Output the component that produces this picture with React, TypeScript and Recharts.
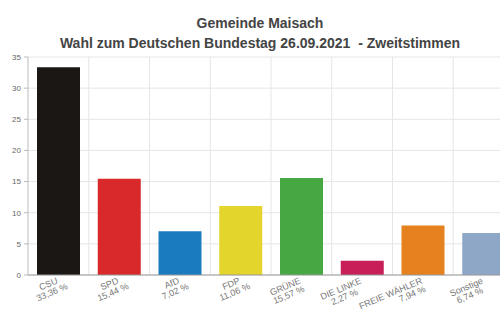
import { BarChart, Bar, XAxis, YAxis, CartesianGrid, Cell } from 'recharts';

const parties = ['CSU', 'SPD', 'AfD', 'FDP', 'GRÜNE', 'DIE LINKE', 'FREIE WÄHLER', 'Sonstige'];
const shares = [33.36, 15.44, 7.02, 11.06, 15.57, 2.27, 7.94, 6.74];
const colors = ['#1b1714', '#d9292a', '#1a7bbf', '#e3d52c', '#46a843', '#c81f58', '#e5821f', '#8fa7c7'];
const yTicks = [0, 5, 10, 15, 20, 25, 30, 35];

const data = parties.map((name, i) => ({ name, value: shares[i], color: colors[i] }));

const LABEL_FONT = '9px "Liberation Sans", Arial, sans-serif';

let ctx: CanvasRenderingContext2D | null = null;
function textWidth(s: string) {
  if (!ctx) ctx = document.createElement('canvas').getContext('2d');
  if (!ctx) return s.length * 5;
  ctx.font = LABEL_FONT;
  return ctx.measureText(s).width;
}

const fmt = (v: number) => v.toFixed(2).replace('.', ',') + ' %';

function PartyTick(props: any) {
  const { x, payload, index } = props;
  const name = payload.value as string;
  const w = textWidth(name);
  // long names: value line right-aligned; otherwise centred under the name
  const long = w > 50;
  return (
    <g transform={`translate(${x},${283}) rotate(-23)`}>
      <text x={0} y={0} textAnchor="end" fill="#777" fontSize={9} fontFamily='"Liberation Sans", Arial, sans-serif'>
        {name}
      </text>
      <text
        x={long ? 0 : -w / 2}
        y={9}
        textAnchor={long ? 'end' : 'middle'}
        fill="#777"
        fontSize={9}
        fontFamily='"Liberation Sans", Arial, sans-serif'
      >
        {fmt(shares[index])}
      </text>
    </g>
  );
}

export default function App() {
  return (
    <div
      style={{
        position: 'absolute',
        left: 0,
        top: 0,
        width: 500,
        height: 310,
        overflow: 'hidden',
        background: '#fff',
        fontFamily: '"Liberation Sans", Arial, sans-serif',
      }}
    >
      <div
        style={{
          position: 'absolute',
          left: 0,
          width: 520,
          top: 13,
          textAlign: 'center',
          fontWeight: 'bold',
          fontSize: 14,
          lineHeight: '20px',
          color: '#444',
        }}
      >
        Gemeinde Maisach
        <br />
        Wahl zum Deutschen Bundestag 26.09.2021&nbsp; - Zweitstimmen
      </div>
      <BarChart
        width={520}
        height={310}
        data={data}
        margin={{ top: 57, right: 6, left: 0, bottom: 0 }}
        style={{ position: 'absolute', left: 0, top: 0 }}
      >
        <CartesianGrid
          stroke="#e6e6e6"
          verticalCoordinatesGenerator={({ offset }: any) =>
            parties.map((_, i) => offset.left + ((i + 1) * offset.width) / parties.length)
          }
        />
        <XAxis
          dataKey="name"
          interval={0}
          height={35}
          axisLine={{ stroke: '#999' }}
          tickLine={false}
          tick={<PartyTick />}
        />
        <YAxis
          width={28}
          domain={[0, 35]}
          ticks={yTicks}
          interval={0}
          axisLine={{ stroke: '#bbb' }}
          tickLine={{ stroke: '#bbb' }}
          tickSize={4}
          tickMargin={3}
          tick={{ fill: '#666', fontSize: 8 }}
        />
        <Bar dataKey="value" barSize={43} isAnimationActive={false}>
          {data.map((d) => (
            <Cell key={d.name} fill={d.color} />
          ))}
        </Bar>
      </BarChart>
    </div>
  );
}
